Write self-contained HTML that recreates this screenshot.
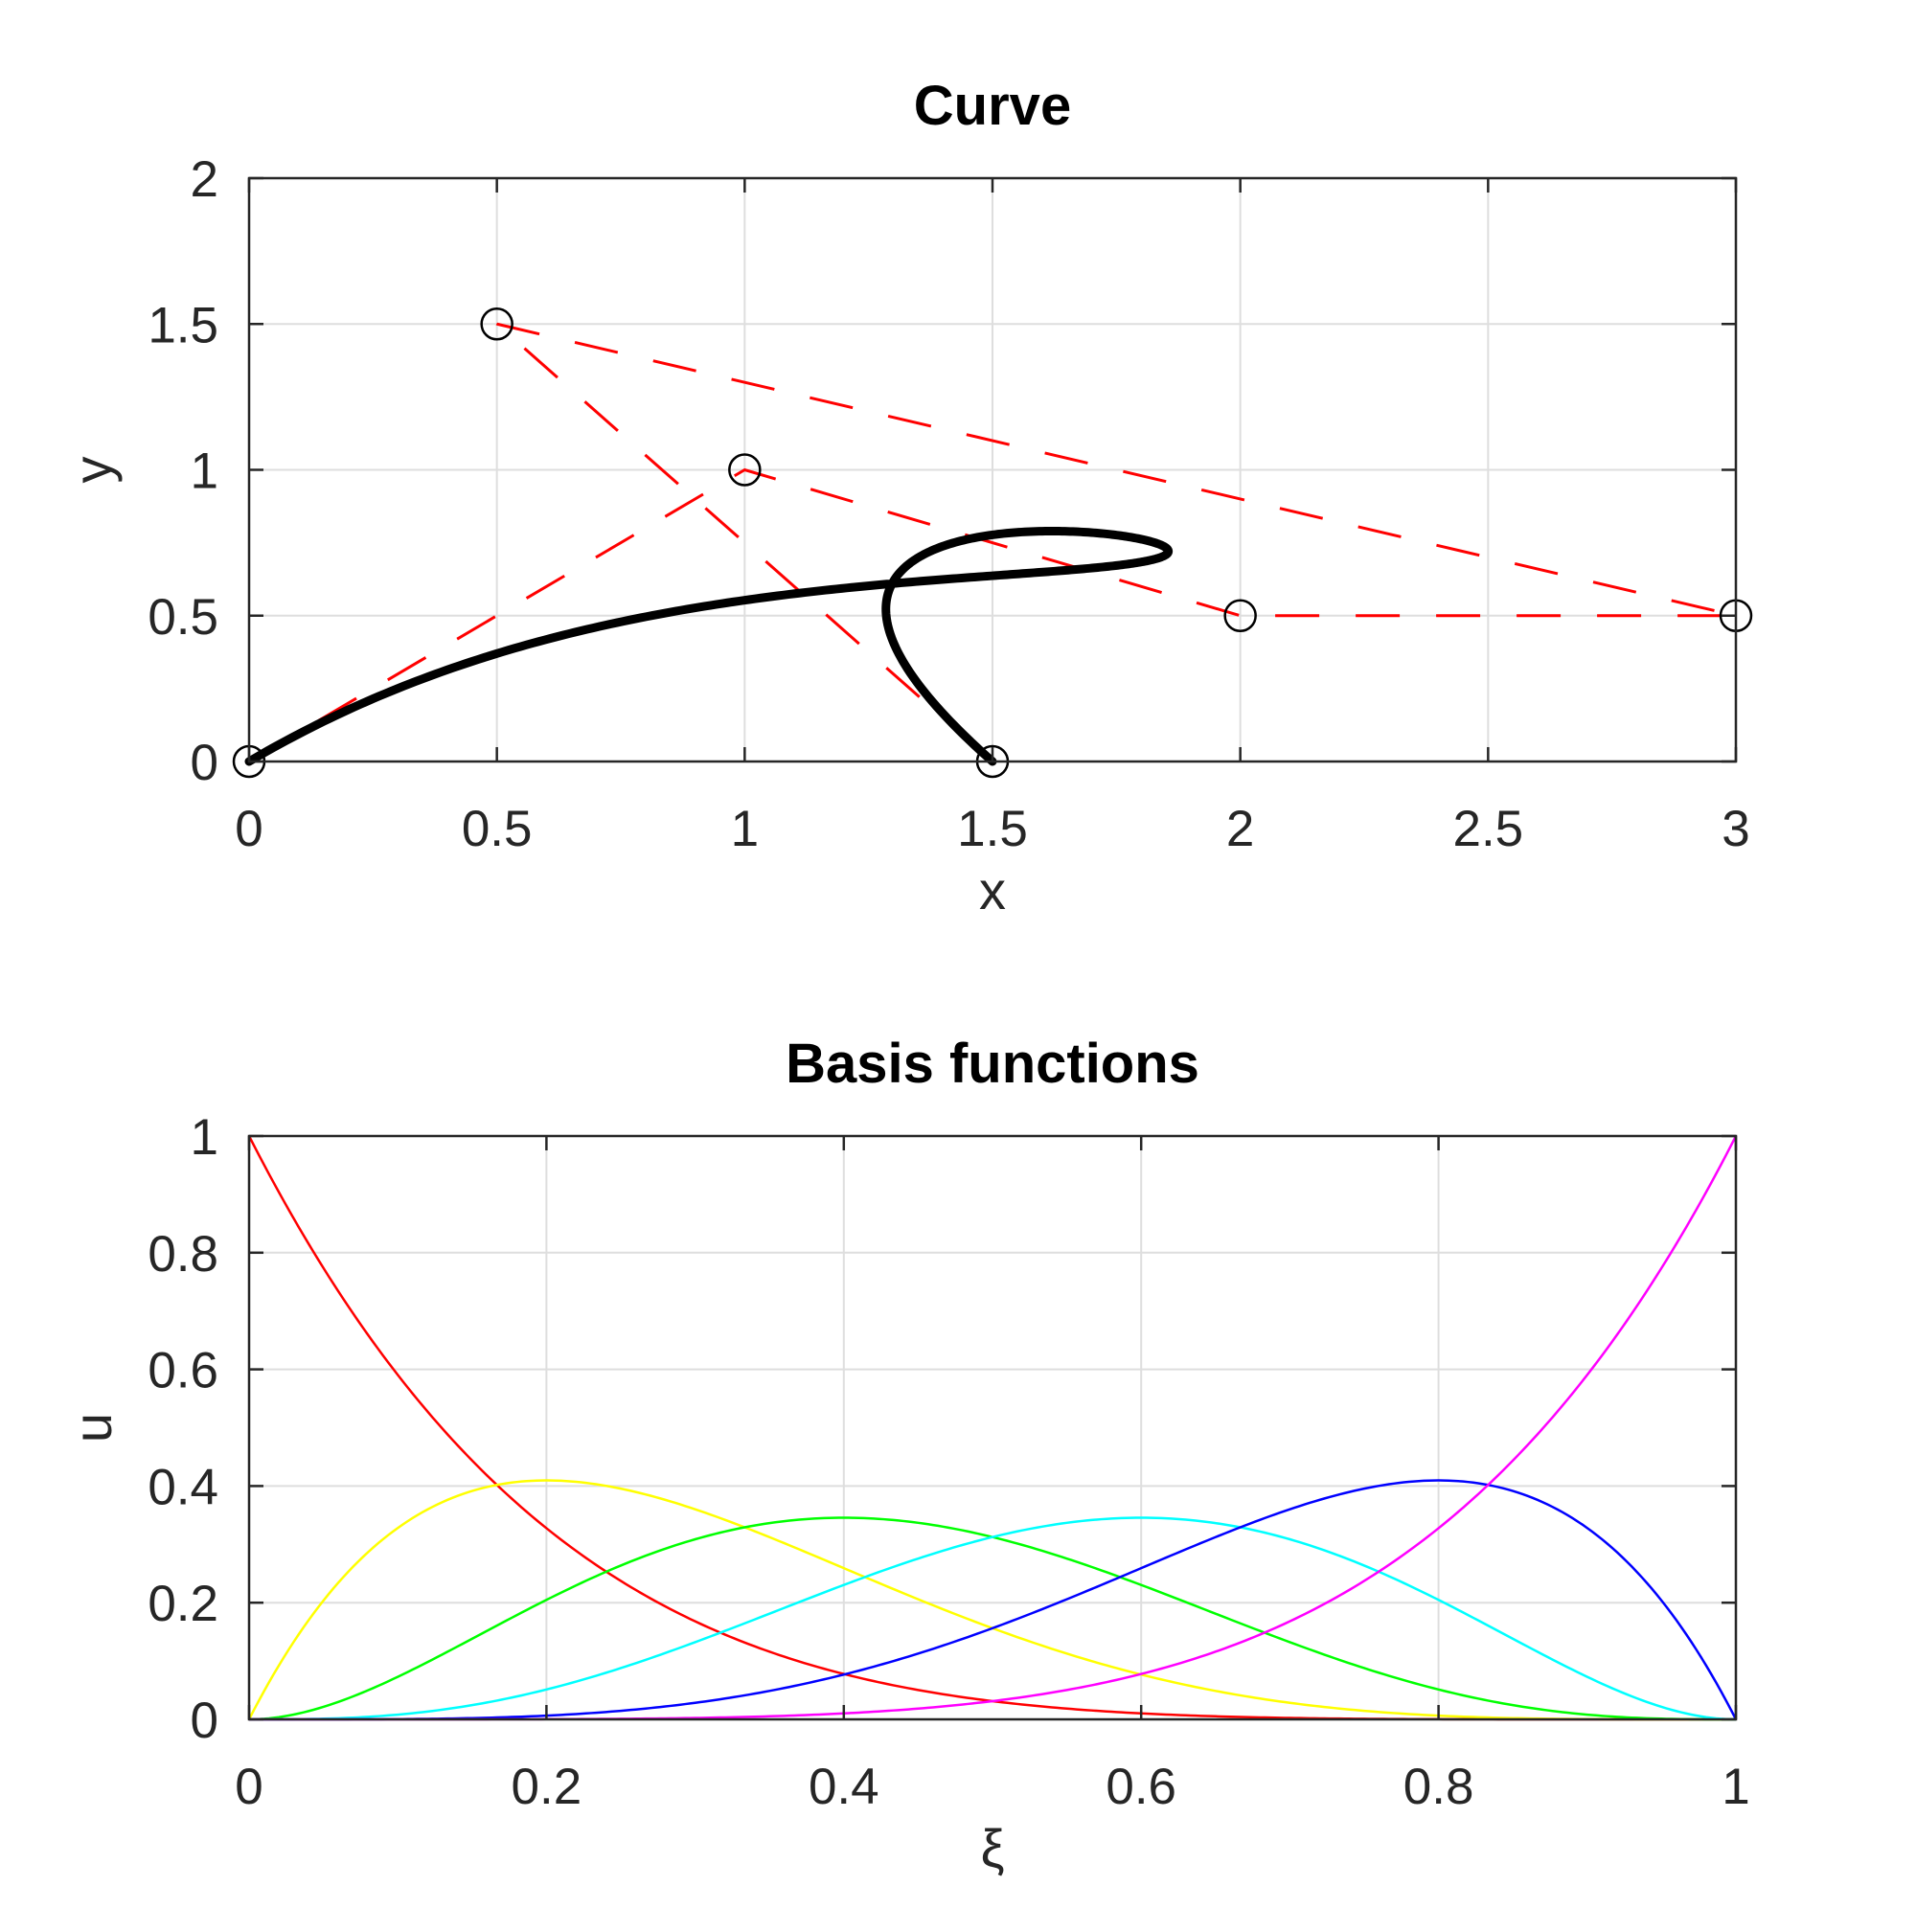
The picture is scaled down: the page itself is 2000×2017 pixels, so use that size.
<!DOCTYPE html>
<html><head><meta charset="utf-8"><style>
html,body{margin:0;padding:0;background:#fff;}
svg{display:block;}
text{font-family:"Liberation Sans",sans-serif;fill:#262626;}
</style></head><body>
<svg id="fig" width="2000" height="2017" viewBox="0 0 2000 2017" xmlns="http://www.w3.org/2000/svg">
<g id="top"></g>
<g id="bot"></g>
</svg>
<script>
// Curve plot data
const ctrlX = [0, 1, 2, 3, 0.5, 1.5];
const ctrlY = [0, 1, 0.5, 0.5, 1.5, 0];
const topXTicks = [0, 0.5, 1, 1.5, 2, 2.5, 3];
const topXTickLabels = ["0", "0.5", "1", "1.5", "2", "2.5", "3"];
const topYTicks = [0, 0.5, 1, 1.5, 2];
const topYTickLabels = ["0", "0.5", "1", "1.5", "2"];
// Basis functions plot data
const basisColors = ["#ff0000", "#ffff00", "#00ff00", "#00ffff", "#0000ff", "#ff00ff"];
const basisDegree = 5;
const botXTicks = [0, 0.2, 0.4, 0.6, 0.8, 1];
const botXTickLabels = ["0", "0.2", "0.4", "0.6", "0.8", "1"];
const botYTicks = [0, 0.2, 0.4, 0.6, 0.8, 1];
const botYTickLabels = ["0", "0.2", "0.4", "0.6", "0.8", "1"];

const NS = "http://www.w3.org/2000/svg";
function mk(parent, tag, attrs, text) {
  const e = document.createElementNS(NS, tag);
  for (const k in attrs) e.setAttribute(k, attrs[k]);
  if (text !== undefined) e.textContent = text;
  parent.appendChild(e);
  return e;
}
function binom(n, k) { let r = 1; for (let i = 1; i <= k; i++) r = r * (n - k + i) / i; return r; }
function bern(i, n, t) { return binom(n, i) * Math.pow(t, i) * Math.pow(1 - t, n - i); }

function axes(g, box, xr, yr, xt, xtl, yt, ytl, title, xlabel, ylabel) {
  const sx = v => box.l + (v - xr[0]) / (xr[1] - xr[0]) * (box.r - box.l);
  const sy = v => box.b - (v - yr[0]) / (yr[1] - yr[0]) * (box.b - box.t);
  // grid
  xt.forEach(v => {
    const l = mk(g, "line", {x1: sx(v), x2: sx(v), y1: box.t, y2: box.b, stroke: "#dedede", "stroke-width": 2});
    
    
  });
  yt.forEach(v => {
    const l = mk(g, "line", {x1: box.l, x2: box.r, y1: sy(v), y2: sy(v), stroke: "#dedede", "stroke-width": 2});
    
    
  });
  return {sx, sy, finish: () => {
    // ticks
    xt.forEach((v, i) => {
      const x = sx(v);
      mk(g, "line", {x1: x, x2: x, y1: box.b, y2: box.b - 15, stroke: "#262626", "stroke-width": 2.5});
      mk(g, "line", {x1: x, x2: x, y1: box.t, y2: box.t + 15, stroke: "#262626", "stroke-width": 2.5});
      const t = mk(g, "text", {x: x, y: box.b + 88, "font-size": 53, "text-anchor": "middle"}, xtl[i]);
      
      
    });
    yt.forEach((v, i) => {
      const y = sy(v);
      mk(g, "line", {x1: box.l, x2: box.l + 15, y1: y, y2: y, stroke: "#262626", "stroke-width": 2.5});
      mk(g, "line", {x1: box.r, x2: box.r - 15, y1: y, y2: y, stroke: "#262626", "stroke-width": 2.5});
      const t = mk(g, "text", {x: 228, y: y + 19, "font-size": 53, "text-anchor": "end"}, ytl[i]);
      
      
    });
    const fr = mk(g, "rect", {x: box.l, y: box.t, width: box.r - box.l, height: box.b - box.t, fill: "none", stroke: "#262626", "stroke-width": 2.5});
    
    
    const tt = mk(g, "text", {x: (box.l + box.r) / 2, y: box.t - 56, "font-size": 58, "font-weight": "bold", "text-anchor": "middle", style: "fill:#000"}, title);
    
    
    const xl = mk(g, "text", {x: (box.l + box.r) / 2, y: box.b + 154, "font-size": 56, "text-anchor": "middle"}, xlabel);
    
    
    const cy = (box.t + box.b) / 2;
    const yl = mk(g, "text", {x: 0, y: 0, "font-size": 56, "text-anchor": "middle", transform: `translate(116,${cy}) rotate(-90)`}, ylabel);
    
    
  }};
}

// Top plot
const gT = document.getElementById("top");
const A = axes(gT, {l: 260, r: 1812, t: 186, b: 795}, [0, 3], [0, 2], topXTicks, topXTickLabels, topYTicks, topYTickLabels, "Curve", "x", "y");
let poly = ctrlX.map((v, i) => A.sx(v) + "," + A.sy(ctrlY[i])).join(" ");
const cp = mk(gT, "polyline", {points: poly, fill: "none", stroke: "#ff0000", "stroke-width": 3, "stroke-dasharray": "46 38"});


const n = ctrlX.length - 1;
let pts = [];
for (let s = 0; s <= 400; s++) {
  const t = s / 400; let x = 0, y = 0;
  for (let i = 0; i <= n; i++) { const b = bern(i, n, t); x += b * ctrlX[i]; y += b * ctrlY[i]; }
  pts.push(A.sx(x).toFixed(2) + "," + A.sy(y).toFixed(2));
}
const cv = mk(gT, "polyline", {points: pts.join(" "), fill: "none", stroke: "#000", "stroke-width": 9, "stroke-linejoin": "round", "stroke-linecap": "round"});


ctrlX.forEach((v, i) => {
  const c = mk(gT, "circle", {cx: A.sx(v), cy: A.sy(ctrlY[i]), r: 16, fill: "none", stroke: "#000", "stroke-width": 2.5});
  
  
});
A.finish();

// Bottom plot
const gB = document.getElementById("bot");
const B = axes(gB, {l: 260, r: 1812, t: 1186, b: 1795}, [0, 1], [0, 1], botXTicks, botXTickLabels, botYTicks, botYTickLabels, "Basis functions", "ξ", "u");
basisColors.forEach((col, i) => {
  let p = [];
  for (let s = 0; s <= 300; s++) { const t = s / 300; p.push(B.sx(t).toFixed(2) + "," + B.sy(bern(i, basisDegree, t)).toFixed(2)); }
  const l = mk(gB, "polyline", {points: p.join(" "), fill: "none", stroke: col, "stroke-width": 2.5});
  
  
});
B.finish();
</script>
</body></html>
